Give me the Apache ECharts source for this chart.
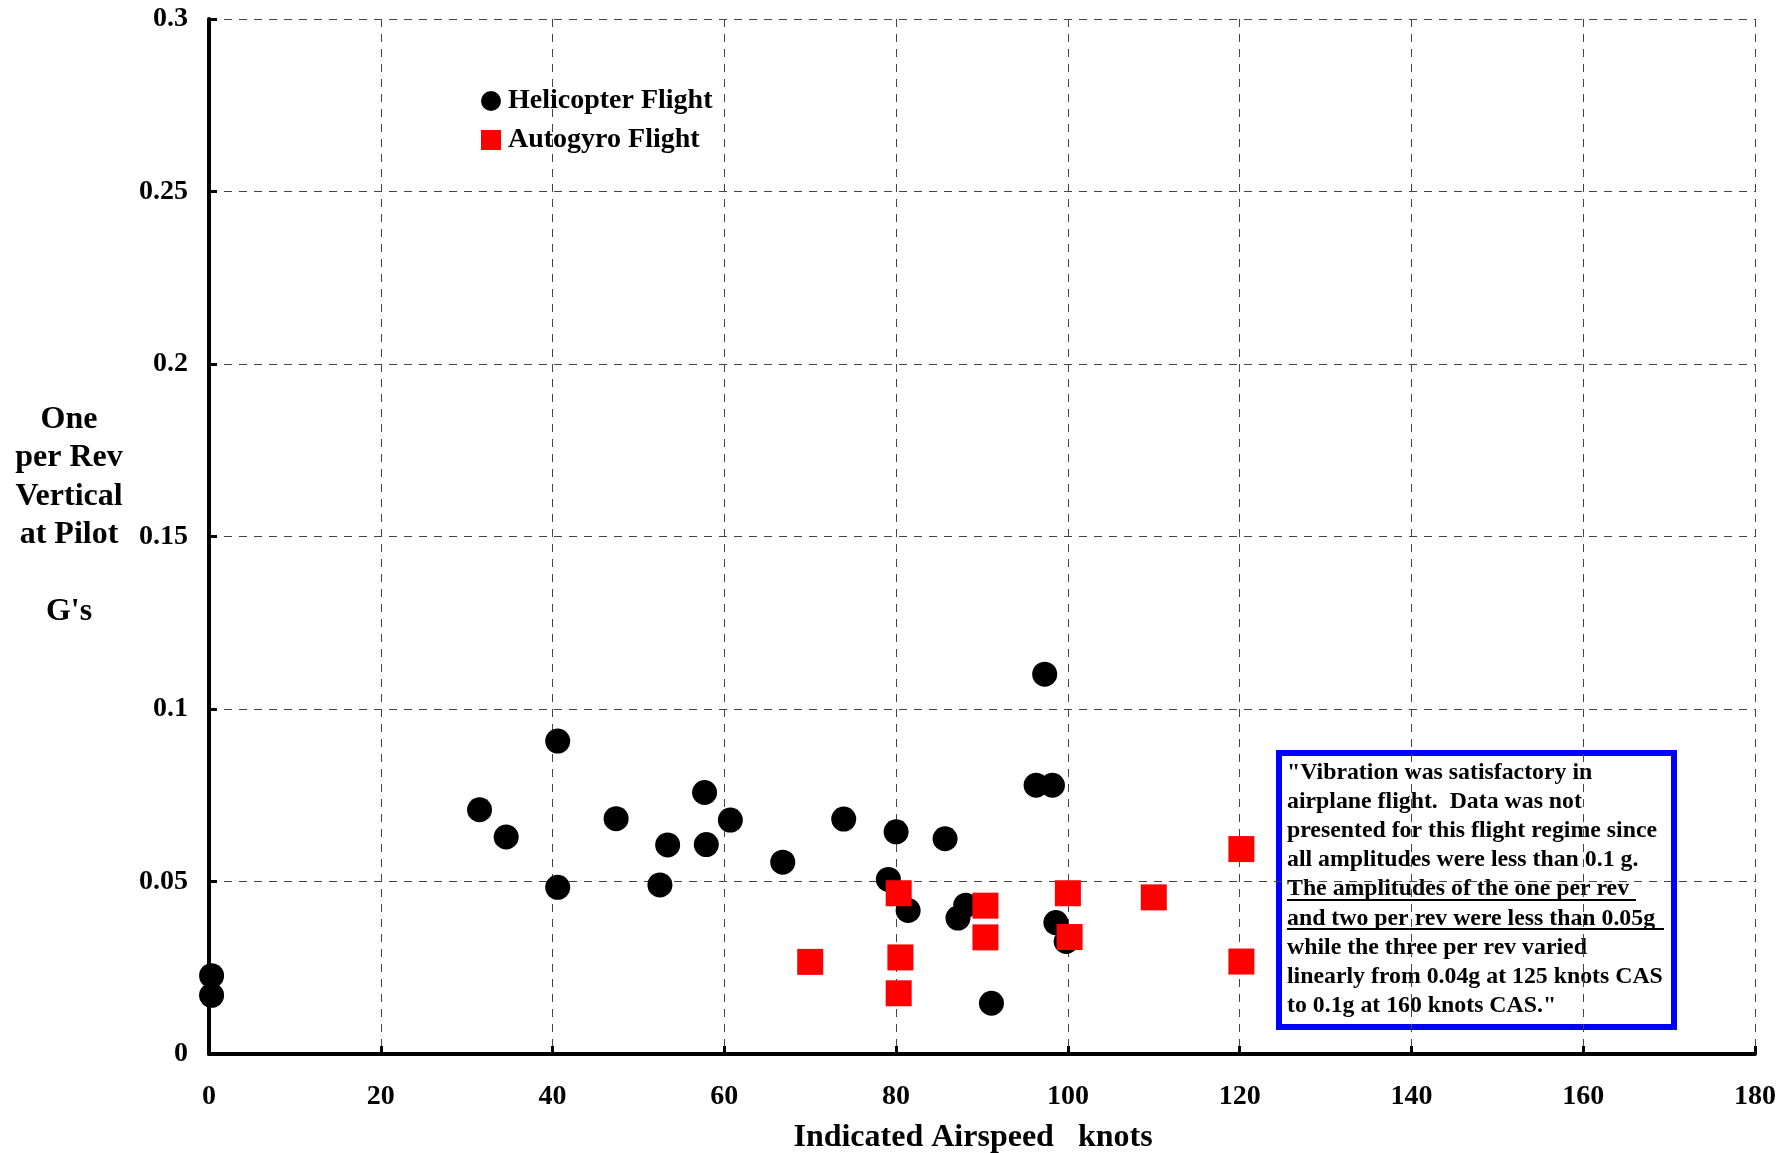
<!DOCTYPE html>
<html>
<head>
<meta charset="utf-8">
<script src="https://cdn.jsdelivr.net/npm/echarts@6/dist/echarts.min.js"></script>
<style>
html,body{margin:0;padding:0;background:#fff;}
#chart{width:1789px;height:1153px;}
</style>
</head>
<body>
<div id="chart"></div>
<script>
// ---- data ----
var seriesNames = ['Helicopter Flight', 'Autogyro Flight'];
var helicopter = [
  [0.3, 0.0227], [0.3, 0.0170],
  [31.5, 0.0708], [34.6, 0.0629], [40.6, 0.0907], [40.6, 0.0483],
  [47.4, 0.0682], [52.5, 0.0490], [53.4, 0.0606], [57.7, 0.0758],
  [57.9, 0.0607], [60.7, 0.0678], [66.8, 0.0556], [73.9, 0.0681],
  [80.0, 0.0644], [79.1, 0.0506], [81.4, 0.0416], [85.7, 0.0624],
  [87.2, 0.0394], [88.1, 0.0431], [91.1, 0.0147], [97.3, 0.1101],
  [96.3, 0.0779], [98.2, 0.0779], [98.6, 0.0381], [99.8, 0.0326]
];
var autogyro = [
  [70.0, 0.0267], [80.3, 0.0466], [80.5, 0.0280], [80.3, 0.0176],
  [90.4, 0.0430], [90.4, 0.0338], [100.0, 0.0466], [100.2, 0.0339],
  [110.0, 0.0454], [120.2, 0.0594], [120.2, 0.0268]
];
var xAxisTitle = 'Indicated Airspeed   knots';
var yAxisTitleLines = ['One', 'per Rev', 'Vertical', 'at Pilot', '', "G's"];
var noteLines = [
  '"Vibration was satisfactory in',
  'airplane flight.  Data was not',
  'presented for this flight regime since',
  'all amplitudes were less than 0.1 g.',
  'The amplitudes of the one per rev ',
  'and two per rev were less than 0.05g ',
  'while the three per rev varied',
  'linearly from 0.04g at 125 knots CAS',
  'to 0.1g at 160 knots CAS."'
];

var FONT = '"Liberation Serif", "Times New Roman", serif';
var chart = echarts.init(document.getElementById('chart'), null, {renderer: 'canvas'});

var option = {
  backgroundColor: '#ffffff',
  animation: false,
  grid: {left: 209, right: 34, top: 19, bottom: 99, containLabel: false, outerBoundsMode: 'none'},
  legend: {
    orient: 'vertical',
    left: 476, top: 82,
    itemWidth: 20, itemHeight: 20, itemGap: 11,
    textStyle: {fontFamily: FONT, fontWeight: 'bold', fontSize: 28, color: '#000', lineHeight: 28, padding: [0,0,0,2]},
    data: [
      {name: seriesNames[0], icon: 'circle', itemStyle: {color: '#000000'}},
      {name: seriesNames[1], icon: 'rect', itemStyle: {color: '#ff0000'}}
    ]
  },
  xAxis: {
    type: 'value', min: 0, max: 180, interval: 20,
    name: xAxisTitle, nameLocation: 'middle', nameGap: 68,
    nameTextStyle: {fontFamily: FONT, fontWeight: 'bold', fontSize: 32, color: '#000', padding: [0, 18, 0, 0]},
    axisLine: {show: true, onZero: false, lineStyle: {color: '#000', width: 4}},
    axisTick: {show: true, inside: true, length: 8, lineStyle: {color: '#000', width: 3}},
    axisLabel: {margin: 29, fontFamily: FONT, fontWeight: 'bold', fontSize: 28, color: '#000'},
    splitLine: {show: true, lineStyle: {color: '#444', width: 1, type: [8, 7]}}
  },
  yAxis: {
    type: 'value', min: 0, max: 0.3, interval: 0.05,
    axisLine: {show: true, onZero: false, lineStyle: {color: '#000', width: 4}},
    axisTick: {show: true, inside: true, length: 8, lineStyle: {color: '#000', width: 3}},
    axisLabel: {margin: 21, fontFamily: FONT, fontWeight: 'bold', fontSize: 28, color: '#000'},
    splitLine: {show: true, lineStyle: {color: '#444', width: 1, type: [8, 7]}}
  },
  series: [
    {
      name: seriesNames[0], type: 'scatter', data: helicopter,
      symbol: 'circle', symbolSize: 25,
      itemStyle: {color: '#000000', opacity: 1}, z: 3
    },
    {
      name: seriesNames[1], type: 'scatter', data: autogyro,
      symbol: 'rect', symbolSize: 26,
      itemStyle: {color: '#ff0000', opacity: 1}, z: 4
    }
  ],
  graphic: [
    {
      type: 'text', x: 69, y: 400, z: 10,
      style: {
        text: yAxisTitleLines.join('\n'),
        font: 'bold 32px ' + FONT, fill: '#000',
        align: 'center', verticalAlign: 'top', lineHeight: 38.5
      }
    },
    {
      type: 'group', x: 1279, y: 753, z: 20,
      children: [
        {type: 'rect', shape: {x: 0, y: 0, width: 395, height: 274},
         style: {fill: '#ffffff', stroke: '#0000ff', lineWidth: 6}},
        {type: 'text', x: 8, y: 5, scaleX: 1.035,
         style: {text: noteLines.join('\n'), font: 'bold 23px ' + FONT, fill: '#000',
                 lineHeight: 29.2, align: 'left', verticalAlign: 'top'}},
        {type: 'line', shape: {x1: 8, y1: 147, x2: 357, y2: 147}, style: {stroke: '#000', lineWidth: 2}},
        {type: 'line', shape: {x1: 8, y1: 176, x2: 385, y2: 176}, style: {stroke: '#000', lineWidth: 2}}
      ]
    }
  ]
};
chart.setOption(option);
</script>
</body>
</html>
